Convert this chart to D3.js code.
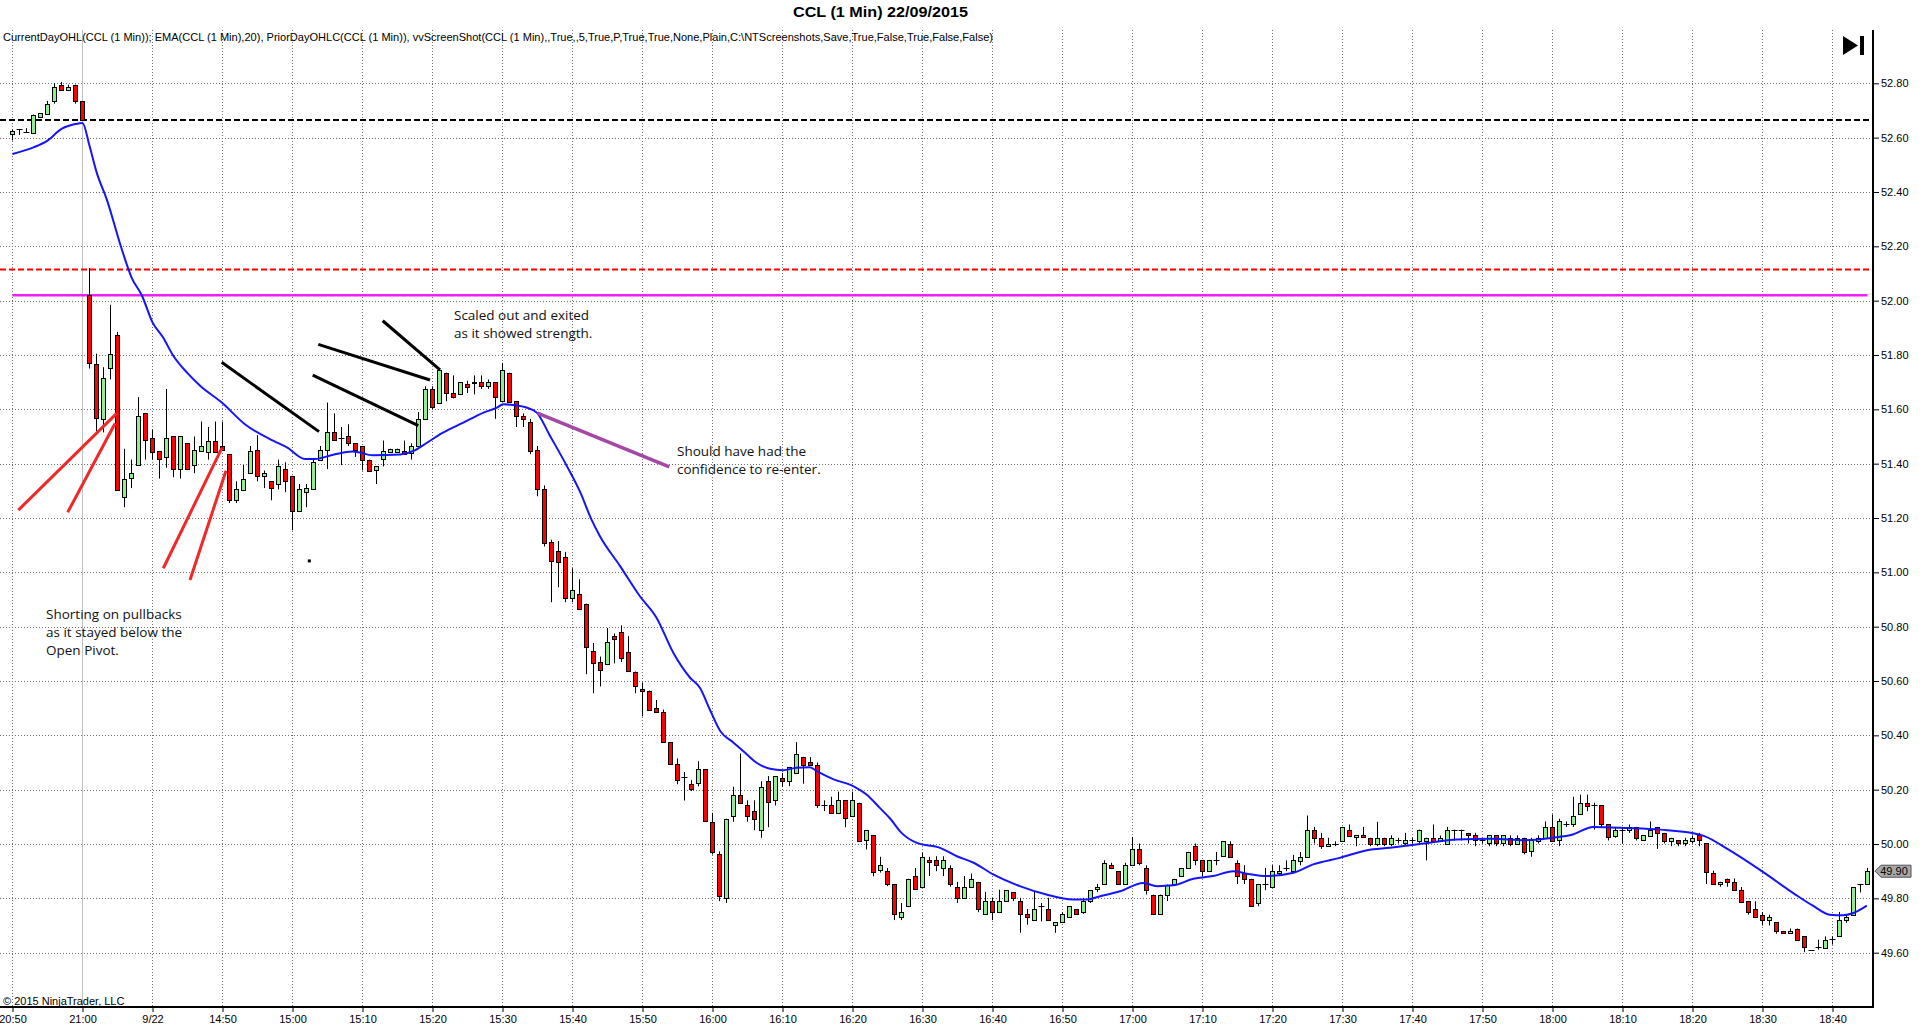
<!DOCTYPE html>
<html>
<head>
<meta charset="utf-8">
<script src="https://cdn.jsdelivr.net/npm/d3@7"></script>
<style>
  body { margin: 0; background: #fff; }
  svg { display: block; }
  .axis text { font-family: "Liberation Sans", Arial, sans-serif; font-size: 11px; fill: #000; }
  .axis line { stroke: #000; }
  .note { font-family: "Open Sans", "Noto Sans", sans-serif; font-size: 13.5px; fill: #111; }
</style>
</head>
<body>
<div id="chart"></div>
<script>
// bar-axis labels, one every 10 bars
var timeLabels = ["20:50","21:00","9/22","14:50","15:00","15:10","15:20","15:30","15:40","15:50",
  "16:00","16:10","16:20","16:30","16:40","16:50","17:00","17:10","17:20","17:30",
  "17:40","17:50","18:00","18:10","18:20","18:30","18:40"];

var priceTicks = [49.6,49.8,50.0,50.2,50.4,50.6,50.8,51.0,51.2,51.4,51.6,51.8,52.0,52.2,52.4,52.6,52.8];

// 1 min candles [open, high, low, close], bar 0 = 20:50 prior day, bar 11 = 14:31
var candles = [
  [52.615,52.63,52.59,52.625],[52.63,52.63,52.61,52.63],[52.62,52.635,52.62,52.62],[52.62,52.685,52.62,52.685],[52.675,52.69,52.675,52.69],
  [52.69,52.735,52.685,52.725],[52.735,52.80,52.725,52.785],[52.795,52.805,52.775,52.775],[52.775,52.795,52.775,52.785],[52.795,52.795,52.725,52.735],
  [52.735,52.735,52.665,52.665],[52.02,52.12,51.75,51.77],[51.765,51.805,51.52,51.565],[51.565,51.755,51.515,51.715],[51.755,51.985,51.71,51.805],
  [51.875,51.885,51.305,51.305],[51.28,51.455,51.24,51.345],[51.345,51.415,51.31,51.365],[51.395,51.645,51.395,51.575],[51.585,51.585,51.415,51.485],
  [51.495,51.525,51.415,51.445],[51.445,51.445,51.345,51.415],[51.425,51.675,51.385,51.495],[51.50,51.50,51.35,51.38],[51.38,51.50,51.345,51.50],
  [51.475,51.475,51.38,51.38],[51.395,51.50,51.365,51.45],[51.445,51.555,51.445,51.465],[51.445,51.535,51.415,51.485],[51.485,51.555,51.445,51.445],
  [51.465,51.555,51.45,51.45],[51.435,51.435,51.255,51.265],[51.265,51.335,51.255,51.305],[51.305,51.395,51.305,51.345],[51.365,51.465,51.365,51.445],
  [51.45,51.505,51.335,51.355],[51.355,51.375,51.31,51.365],[51.335,51.335,51.265,51.31],[51.325,51.415,51.305,51.39],[51.38,51.405,51.295,51.335],
  [51.355,51.355,51.155,51.225],[51.225,51.325,51.225,51.305],[51.295,51.325,51.24,51.31],[51.305,51.415,51.305,51.405],[51.415,51.465,51.415,51.45],
  [51.45,51.625,51.38,51.515],[51.515,51.585,51.485,51.485],[51.495,51.535,51.395,51.495],[51.50,51.545,51.465,51.475],[51.475,51.475,51.425,51.45],
  [51.465,51.465,51.375,51.415],[51.415,51.415,51.375,51.375],[51.375,51.39,51.325,51.39],[51.415,51.485,51.39,51.445],[51.445,51.455,51.445,51.455],
  [51.445,51.455,51.445,51.455],[51.445,51.485,51.435,51.435],[51.44,51.475,51.415,51.465],[51.465,51.59,51.465,51.565],[51.565,51.685,51.565,51.675],
  [51.675,51.685,51.60,51.61],[51.625,51.745,51.625,51.745],[51.735,51.735,51.63,51.66],[51.66,51.725,51.64,51.645],[51.655,51.70,51.655,51.70],
  [51.695,51.705,51.66,51.685],[51.695,51.725,51.655,51.70],[51.70,51.725,51.675,51.685],[51.685,51.71,51.675,51.70],[51.70,51.70,51.565,51.645],
  [51.63,51.77,51.63,51.745],[51.735,51.735,51.63,51.63],[51.63,51.63,51.535,51.575],[51.575,51.585,51.535,51.565],[51.555,51.565,51.435,51.45],
  [51.45,51.465,51.28,51.305],[51.305,51.32,51.095,51.105],[51.11,51.12,50.89,51.04],[51.08,51.115,50.945,51.04],[51.055,51.075,50.89,50.905],
  [50.905,51.015,50.89,50.935],[50.92,50.975,50.865,50.865],[50.885,50.885,50.625,50.725],[50.71,50.74,50.555,50.665],[50.67,50.69,50.58,50.64],
  [50.665,50.795,50.665,50.745],[50.765,50.775,50.665,50.755],[50.78,50.805,50.67,50.685],[50.705,50.765,50.635,50.635],[50.635,50.635,50.555,50.585],
  [50.572,50.595,50.47,50.563],[50.565,50.565,50.495,50.495],[50.50,50.53,50.485,50.485],[50.485,50.495,50.375,50.375],[50.375,50.375,50.295,50.295],
  [50.295,50.315,50.22,50.235],[50.245,50.265,50.16,50.245],[50.222,50.235,50.195,50.203],[50.222,50.305,50.212,50.275],[50.275,50.275,50.082,50.082],
  [50.082,50.115,49.961,49.971],[49.964,49.973,49.79,49.81],[49.802,50.093,49.783,50.093],[50.102,50.211,50.082,50.181],[50.181,50.333,50.152,50.152],
  [50.142,50.161,50.082,50.102],[50.123,50.161,50.051,50.093],[50.051,50.231,50.023,50.211],[50.231,50.25,50.062,50.152],[50.161,50.25,50.142,50.25],
  [50.244,50.262,50.211,50.234],[50.234,50.284,50.213,50.284],[50.262,50.375,50.262,50.332],[50.321,50.321,50.222,50.293],[50.303,50.32,50.291,50.291],
  [50.291,50.30,50.133,50.142],[50.142,50.161,50.121,50.142],[50.142,50.174,50.111,50.112],[50.112,50.193,50.111,50.161],[50.161,50.161,50.062,50.093],
  [50.102,50.193,50.102,50.161],[50.152,50.152,50.013,50.013],[50.013,50.051,49.98,50.051],[50.032,50.032,49.881,49.894],[49.902,49.953,49.895,49.922],
  [49.902,49.912,49.845,49.853],[49.853,49.853,49.72,49.743],[49.732,49.783,49.72,49.749],[49.771,49.872,49.771,49.872],[49.882,49.912,49.833,49.833],
  [49.842,49.968,49.842,49.953],[49.94,49.953,49.882,49.931],[49.94,49.955,49.90,49.922],[49.912,49.955,49.882,49.94],[49.912,49.922,49.843,49.853],
  [49.842,49.861,49.783,49.802],[49.802,49.882,49.802,49.842],[49.842,49.891,49.842,49.872],[49.861,49.861,49.749,49.761],[49.743,49.824,49.743,49.79],
  [49.79,49.802,49.72,49.749],[49.749,49.832,49.749,49.79],[49.79,49.83,49.79,49.83],[49.823,49.823,49.79,49.802],[49.79,49.802,49.673,49.743],
  [49.743,49.761,49.703,49.732],[49.72,49.824,49.72,49.761],[49.773,49.783,49.715,49.773],[49.761,49.802,49.72,49.72],[49.703,49.713,49.673,49.713],
  [49.713,49.749,49.713,49.743],[49.732,49.771,49.732,49.771],[49.761,49.761,49.743,49.743],[49.749,49.802,49.743,49.79],[49.79,49.83,49.783,49.83],
  [49.833,49.853,49.823,49.842],[49.853,49.94,49.853,49.931],[49.922,49.931,49.912,49.912],[49.90,49.90,49.853,49.853],[49.853,49.931,49.853,49.922],
  [49.922,50.026,49.922,49.982],[49.982,50.002,49.922,49.931],[49.912,49.922,49.814,49.83],[49.814,49.814,49.743,49.743],[49.743,49.814,49.743,49.814],
  [49.814,49.851,49.79,49.851],[49.853,49.872,49.853,49.872],[49.882,49.912,49.882,49.912],[49.912,49.971,49.912,49.971],[49.992,50.002,49.922,49.94],
  [49.94,49.94,49.882,49.90],[49.90,49.94,49.90,49.94],[49.94,49.971,49.922,49.94],[49.953,50.01,49.953,50.01],[50.0,50.01,49.953,49.953],
  [49.931,49.94,49.853,49.882],[49.894,49.922,49.853,49.872],[49.872,49.872,49.771,49.771],[49.783,49.853,49.771,49.853],[49.853,49.912,49.83,49.853],
  [49.842,49.922,49.842,49.90],[49.894,49.922,49.882,49.90],[49.912,49.94,49.90,49.912],[49.90,49.96,49.90,49.94],[49.94,49.971,49.922,49.953],
  [49.953,50.105,49.953,50.053],[50.053,50.063,50.002,50.023],[50.023,50.041,49.982,49.992],[49.992,50.023,49.992,50.0],[50.0,50.01,49.992,50.0],
  [50.01,50.063,50.01,50.063],[50.053,50.072,50.032,50.032],[50.023,50.032,49.992,50.032],[50.032,50.063,50.023,50.023],[50.023,50.023,49.992,50.0],
  [50.0,50.082,49.992,50.023],[50.023,50.023,49.992,50.0],[50.0,50.032,49.992,50.023],[50.013,50.023,50.002,50.013],[50.002,50.041,49.992,50.013],
  [50.013,50.023,50.002,50.013],[50.013,50.053,50.002,50.053],[50.013,50.023,49.94,50.023],[50.023,50.072,50.013,50.013],[50.013,50.031,50.013,50.023],
  [50.002,50.063,50.002,50.053],[50.053,50.053,50.013,50.053],[50.053,50.053,50.013,50.053],[50.041,50.041,50.002,50.032],[50.032,50.041,49.992,50.013],
  [50.013,50.023,50.002,50.013],[50.002,50.032,49.992,50.032],[50.032,50.032,49.992,50.002],[50.002,50.032,49.992,50.032],[50.023,50.032,49.992,50.002],
  [50.002,50.032,50.002,50.023],[50.023,50.023,49.962,49.972],[49.972,50.023,49.953,50.013],[50.013,50.032,50.002,50.023],[50.023,50.083,50.023,50.063],
  [50.063,50.109,50.013,50.013],[50.013,50.093,49.992,50.083],[50.072,50.083,50.063,50.072],[50.072,50.174,50.063,50.102],[50.112,50.182,50.112,50.152],
  [50.152,50.182,50.121,50.142],[50.142,50.152,50.053,50.142],[50.142,50.142,50.063,50.072],[50.072,50.072,50.013,50.023],[50.032,50.063,50.023,50.053],
  [50.053,50.063,50.002,50.053],[50.053,50.072,50.041,50.063],[50.063,50.063,50.013,50.023],[50.013,50.032,50.013,50.032],[50.032,50.083,50.032,50.053],
  [50.063,50.063,49.982,50.041],[50.041,50.041,50.002,50.013],[50.013,50.023,49.992,50.023],[50.013,50.013,49.992,50.002],[50.002,50.023,49.992,50.013],
  [50.013,50.032,50.002,50.023],[50.032,50.041,49.992,50.013],[50.002,50.002,49.853,49.894],[49.894,49.902,49.853,49.853],[49.853,49.861,49.843,49.861],
  [49.873,49.873,49.843,49.861],[49.861,49.873,49.832,49.832],[49.832,49.842,49.789,49.789],[49.789,49.789,49.74,49.75],[49.761,49.789,49.73,49.73],
  [49.74,49.75,49.70,49.72],[49.72,49.74,49.70,49.73],[49.712,49.712,49.67,49.679],[49.679,49.679,49.67,49.67],[49.67,49.689,49.67,49.679],
  [49.689,49.689,49.648,49.648],[49.66,49.66,49.602,49.62],[49.611,49.611,49.611,49.611],[49.62,49.648,49.611,49.62],[49.62,49.66,49.62,49.648],
  [49.65,49.66,49.63,49.65],[49.66,49.75,49.66,49.72],[49.72,49.74,49.71,49.73],[49.74,49.842,49.74,49.842],[49.853,49.853,49.822,49.853],
  [49.853,49.912,49.853,49.90]
];

// EMA(20): [bar, value]
var emaPoints = [
  [0,52.54],[3,52.564],[5,52.589],[7,52.632],[9,52.65],[10,52.654],[11,52.57],[12,52.474],[13.5,52.37],[15.6,52.19],
  [17,52.086],[18.5,52.018],[20,51.92],[21.5,51.865],[22.9,51.80],[25,51.733],[26.8,51.687],[29.9,51.625],[33.2,51.545],[37.3,51.484],
  [39.2,51.46],[41.8,51.417],[43.2,51.417],[45.8,51.433],[48.6,51.445],[51.5,51.431],[55.4,51.434],[57.3,51.447],[59.2,51.477],[61.5,51.514],
  [64.4,51.551],[67.3,51.588],[69.2,51.606],[70.1,51.619],[71.5,51.616],[73.5,51.606],[74.9,51.588],[76.8,51.502],[79.2,51.391],[81.1,51.295],
  [82.7,51.195],[83.9,51.134],[86.8,51.023],[89.6,50.913],[92,50.833],[94.4,50.704],[96.8,50.612],[98.2,50.575],[99.6,50.496],[101.1,50.416],
  [103,50.373],[104.9,50.33],[106.3,50.299],[108.2,50.277],[110.1,50.272],[112,50.281],[113.9,50.283],[114.9,50.268],[117.3,50.238],[120.1,50.213],
  [122,50.182],[123.9,50.133],[125.4,50.093],[127,50.041],[129.2,50.004],[132.5,49.986],[134.9,49.955],[137.3,49.931],[140.1,49.888],[143.9,49.845],
  [147.7,49.814],[151.5,49.796],[153.5,49.796],[155.4,49.808],[158.2,49.826],[161.5,49.857],[163.5,49.845],[165.8,49.848],[168.7,49.872],[171.5,49.882],
  [174.4,49.90],[176.3,49.891],[179.2,49.882],[183,49.894],[185.8,49.925],[189.6,49.949],[193.5,49.977],[196.8,49.986],[201.6,50.002],[206.4,50.017],
  [211.3,50.019],[216.1,50.014],[220,50.023],[222.9,50.035],[225.8,50.063],[230.6,50.059],[235.4,50.053],[240.3,50.039],[241.7,50.029],[245.1,49.98],
  [249.9,49.90],[254.7,49.814],[257.2,49.773],[259.6,49.74],[261.5,49.738],[263,49.746],[264.9,49.773]
];

// session levels
var priorClose = 52.665, dayHigh = 52.115, dayOpen = 52.02;
var lastPrice = 49.90;

// hand drawn lines: [bar1, price1, bar2, price2]
var redStrokes = [[0.83,51.229,14.886,51.585],[7.886,51.221,14.643,51.548],[21.543,51.015,29.886,51.456],[25.357,50.972,30.5,51.374]];
var blackStrokes = [[29.886,51.773,43.786,51.518],[43.686,51.839,59.643,51.708],[42.886,51.726,57.971,51.54],[52.886,51.926,61.071,51.745]];
var purpleStrokes = [[75.0,51.586,93.829,51.388]];

// notes: [bar, price of first baseline, lines]
var notes = [
  [63.07,51.928,["Scaled out and exited","as it showed strength."]],
  [94.93,51.43,["Should have had the","confidence to re-enter."]],
  [4.79,50.83,["Shorting on pullbacks","as it stayed below the","Open Pivot."]]
];
var dots = [[42.4,51.042]];

var width = 1920, height = 1034;
var axisX = 1873, axisY = 1007, plotTop = 30;

var svg = d3.select("#chart").append("svg")
    .attr("width", width).attr("height", height);
svg.append("rect").attr("width", width).attr("height", height).attr("fill", "#fff");

var xs = d3.scaleLinear().domain([0, 265]).range([12.5, 1867.5]);
var ys = d3.scaleLinear().domain([49.6, 52.8]).range([952.7, 83.3]);

var tickBars = d3.range(0, 261, 10);

// grid
var grid = svg.append("g");
grid.selectAll("line.h").data(priceTicks).enter().append("line")
    .attr("x1", 0).attr("x2", axisX)
    .attr("y1", d => Math.round(ys(d)) + 0.5).attr("y2", d => Math.round(ys(d)) + 0.5)
    .attr("stroke", "#707070").attr("stroke-dasharray", "1,2");
grid.selectAll("line.v").data(tickBars.filter(d => d !== 10)).enter().append("line")
    .attr("x1", d => xs(d)).attr("x2", d => xs(d))
    .attr("y1", plotTop).attr("y2", axisY)
    .attr("stroke", "#707070").attr("stroke-dasharray", "1,2");
// session break
grid.append("line")
    .attr("x1", xs(10)).attr("x2", xs(10)).attr("y1", plotTop).attr("y2", axisY)
    .attr("stroke", "#c0c0c0");

// level lines
svg.append("line").attr("x1", 0).attr("x2", axisX)
    .attr("y1", ys(priorClose)).attr("y2", ys(priorClose))
    .attr("stroke", "#000").attr("stroke-width", 2).attr("stroke-dasharray", "6,3");
svg.append("line").attr("x1", 0).attr("x2", axisX)
    .attr("y1", ys(dayHigh)).attr("y2", ys(dayHigh))
    .attr("stroke", "#ff0000").attr("stroke-width", 2).attr("stroke-dasharray", "6,3");
svg.append("line").attr("x1", xs(0)).attr("x2", xs(265))
    .attr("y1", ys(dayOpen)).attr("y2", ys(dayOpen))
    .attr("stroke", "#f020f0").attr("stroke-width", 2.5);

// candles
var bars = candles.map((d, i) => ({ i: i, o: d[0], h: d[1], l: d[2], c: d[3] }));
var cg = svg.append("g");
cg.selectAll("line.wick").data(bars).enter().append("line")
    .attr("x1", d => xs(d.i)).attr("x2", d => xs(d.i))
    .attr("y1", d => ys(d.h)).attr("y2", d => ys(d.l))
    .attr("stroke", "#000");
cg.selectAll("rect.body").data(bars.filter(d => d.o !== d.c)).enter().append("rect")
    .attr("x", d => xs(d.i) - 2).attr("width", 4)
    .attr("y", d => Math.round(ys(Math.max(d.o, d.c))) + 0.5)
    .attr("height", d => Math.max(1, Math.round(Math.abs(ys(d.o) - ys(d.c)))))
    .attr("fill", d => d.c > d.o ? "#90ee90" : "#ff0000")
    .attr("stroke", "#000");
cg.selectAll("line.doji").data(bars.filter(d => d.o === d.c)).enter().append("line")
    .attr("x1", d => xs(d.i) - 3).attr("x2", d => xs(d.i) + 3)
    .attr("y1", d => Math.round(ys(d.c)) + 0.5).attr("y2", d => Math.round(ys(d.c)) + 0.5)
    .attr("stroke", "#000");

// EMA
var ema = d3.line().x(d => xs(d[0])).y(d => ys(d[1])).curve(d3.curveMonotoneX);
svg.append("path").datum(emaPoints)
    .attr("d", ema).attr("fill", "none")
    .attr("stroke", "#1414ff").attr("stroke-width", 2);

// drawings
function strokes(data, color, w) {
    svg.append("g").selectAll("line").data(data).enter().append("line")
        .attr("x1", d => xs(d[0])).attr("y1", d => ys(d[1]))
        .attr("x2", d => xs(d[2])).attr("y2", d => ys(d[3]))
        .attr("stroke", color).attr("stroke-width", w);
}
strokes(redStrokes, "#f02828", 3);
strokes(blackStrokes, "#000", 3);
strokes(purpleStrokes, "#a548a5", 3.5);

svg.append("g").selectAll("rect").data(dots).enter().append("rect")
    .attr("x", d => xs(d[0]) - 1.5).attr("y", d => ys(d[1]) - 1.5)
    .attr("width", 3).attr("height", 3).attr("fill", "#000");

var noteText = svg.append("g").selectAll("text").data(notes).enter().append("text")
    .attr("class", "note")
    .attr("x", d => xs(d[0])).attr("y", d => ys(d[1]));
noteText.selectAll("tspan").data(d => d[2].map(t => [d[0], t])).enter().append("tspan")
    .attr("x", d => xs(d[0]))
    .attr("dy", (d, k) => k === 0 ? 0 : 18)
    .text(d => d[1]);

// axes
svg.append("g").attr("class", "axis")
    .attr("transform", "translate(" + axisX + ",0)")
    .call(d3.axisRight(ys).tickValues(priceTicks).tickFormat(d3.format(".2f")).tickSize(6).tickPadding(2))
    .call(g => g.select(".domain").remove());
svg.append("g").attr("class", "axis")
    .attr("transform", "translate(0," + axisY + ")")
    .call(d3.axisBottom(xs).tickValues(tickBars).tickFormat((d, k) => timeLabels[k]).tickSize(5).tickPadding(3))
    .call(g => g.select(".domain").remove());

svg.append("line").attr("x1", axisX).attr("x2", axisX).attr("y1", plotTop).attr("y2", axisY + 1)
    .attr("stroke", "#000").attr("stroke-width", 2);
svg.append("line").attr("x1", 0).attr("x2", axisX + 1).attr("y1", axisY).attr("y2", axisY)
    .attr("stroke", "#000").attr("stroke-width", 2);

// last price marker
var ly = ys(lastPrice);
svg.append("path")
    .attr("d", "M" + (axisX + 2) + "," + ly + "L" + (axisX + 8) + "," + (ly - 6) + "H1911V" + (ly + 6) + "H" + (axisX + 8) + "Z")
    .attr("fill", "#a8a8a8").attr("stroke", "#505050");
svg.append("text").attr("x", 1894).attr("y", ly + 4).attr("text-anchor", "middle")
    .style("font-family", "Liberation Sans, Arial, sans-serif").style("font-size", "11px")
    .text(lastPrice.toFixed(2));

// header texts
svg.append("text").attr("x", 793).attr("y", 17)
    .attr("textLength", 175).attr("lengthAdjust", "spacingAndGlyphs")
    .style("font-family", "Liberation Sans, Arial, sans-serif").style("font-size", "15px").style("font-weight", "bold")
    .text("CCL (1 Min)  22/09/2015");
svg.append("text").attr("x", 3).attr("y", 41)
    .attr("textLength", 990).attr("lengthAdjust", "spacingAndGlyphs")
    .style("font-family", "Liberation Sans, Arial, sans-serif").style("font-size", "11px")
    .text("CurrentDayOHL(CCL (1 Min)); EMA(CCL (1 Min),20), PriorDayOHLC(CCL (1 Min)), vvScreenShot(CCL (1 Min),,True,,5,True,P,True,True,None,Plain,C:\\NTScreenshots,Save,True,False,True,False,False)");
svg.append("text").attr("x", 3).attr("y", 1005)
    .style("font-family", "Liberation Sans, Arial, sans-serif").style("font-size", "11px")
    .text("\u00a9 2015 NinjaTrader, LLC");

// end-of-chart button
svg.append("path").attr("d", "M1843,36L1858,45.5L1843,55Z").attr("fill", "#000");
svg.append("rect").attr("x", 1860).attr("y", 36).attr("width", 4).attr("height", 19).attr("fill", "#000");
</script>
</body>
</html>
